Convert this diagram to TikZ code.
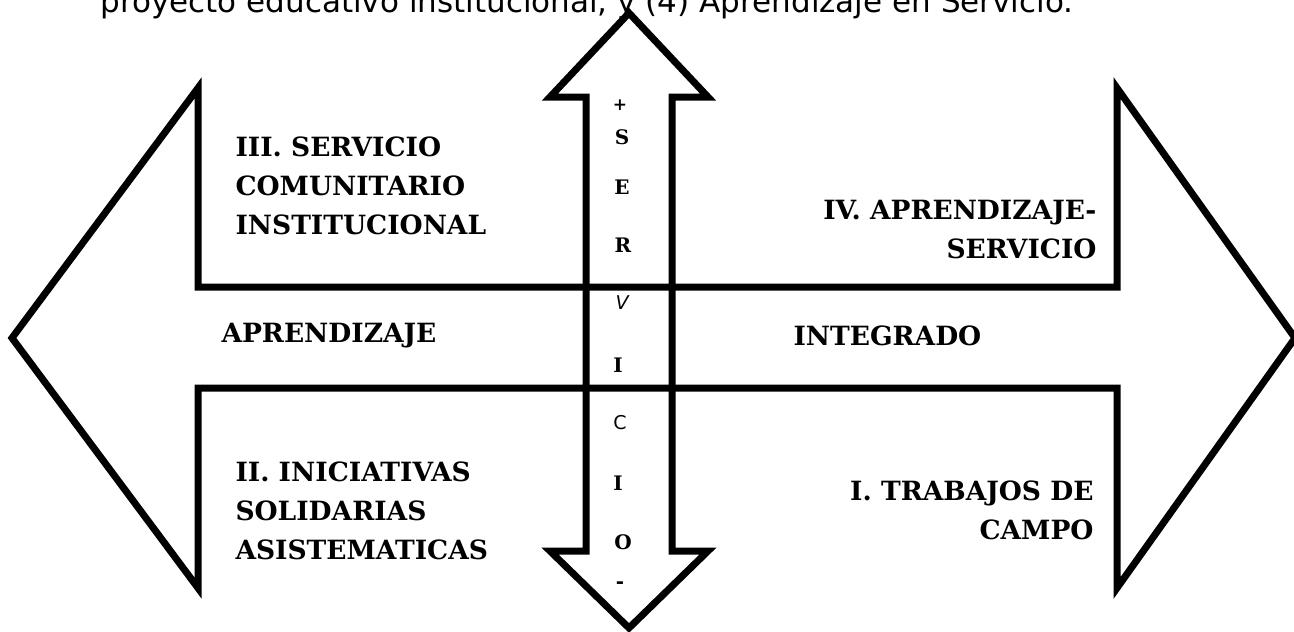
\documentclass[tikz,border=0pt]{standalone}
\usepackage{fontspec}
\setmainfont{DejaVu Serif}
\newfontfamily\sansfont{DejaVu Sans}
\usetikzlibrary{positioning}

\tikzset{
  rotulo/.style={font=\bfseries\fontsize{26.5}{39}\selectfont,inner sep=0pt},
  letra/.style={font=\bfseries\fontsize{20}{22}\selectfont,inner sep=0pt},
  letrasans/.style={font=\sansfont\fontsize{19}{22}\selectfont,inner sep=0pt}
}

\begin{document}
\begin{tikzpicture}[x=1pt,y=-1pt,line width=7pt,line join=miter]
\useasboundingbox (0,0) rectangle (1294,632);

% texto cortado arriba
\node[anchor=base west,inner sep=0pt,font=\sansfont\fontsize{31}{34}\selectfont]
      (intro) at (97,12) {proyecto educativo institucional, y (4) Aprendizaje en Servicio.};

% flecha horizontal doble
\draw (12,338) -- (198,88) -- (198,287) -- (1117,287) -- (1117,88) -- (1295,338)
      -- (1117,588) -- (1117,388) -- (198,388) -- (198,588) -- cycle;

% flecha vertical doble
\draw (629,13) -- (708,97) -- (672,97) -- (672,551) -- (708,551) -- (629,628)
      -- (550,551) -- (586,551) -- (586,97) -- (550,97) -- cycle;

% cuadrantes
\node[rotulo,anchor=west,align=left]  (III) at (232,186) {III. SERVICIO\\COMUNITARIO\\INSTITUCIONAL};
\node[rotulo,anchor=east,align=right] (IV)  at (1100,230) {IV. APRENDIZAJE-\\SERVICIO};
\node[rotulo,anchor=west]             (apr) at (218,336) {APRENDIZAJE};
\node[rotulo,anchor=west]             (int) at (790,336) {INTEGRADO};
\node[rotulo,anchor=west,align=left]  (II)  at (232,511) {II. INICIATIVAS\\SOLIDARIAS\\ASISTEMATICAS};
\node[rotulo,anchor=east,align=right] (I)   at (1097,510) {I. TRABAJOS DE\\CAMPO};

% letras del eje vertical
\node[letra,font=\bfseries\fontsize{17}{18}\selectfont] (s1) at (620,105) {+};
\node[letra]     (s2)  at (622,137) {S};
\node[letra]     (s3)  at (622,187) {E};
\node[letra]     (s4)  at (623,245) {R};
\node[letrasans,font=\sansfont\itshape\fontsize{19}{22}\selectfont] (s5) at (622,303) {V};
\node[letra]     (s6)  at (618,365) {I};
\node[letrasans] (s7)  at (620,423) {C};
\node[letra]     (s8)  at (618,483) {I};
\node[letra]     (s9)  at (623,542) {O};
\node[letra]     (s10) at (620,585) {-};
\end{tikzpicture}
\end{document}
